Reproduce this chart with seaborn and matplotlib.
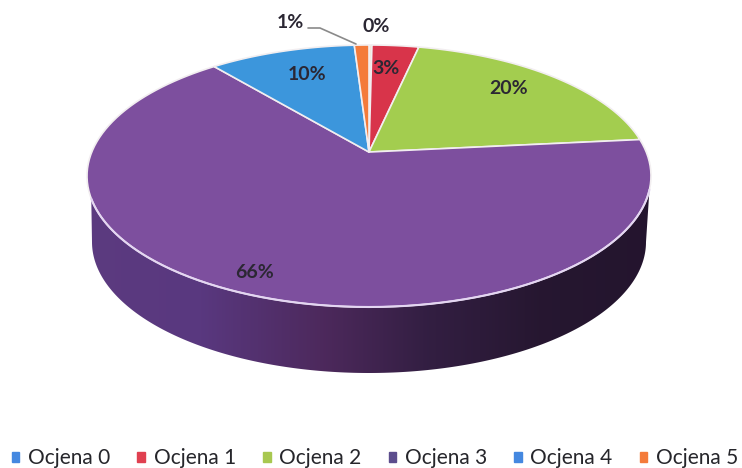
import matplotlib
matplotlib.use('Agg')
import matplotlib.pyplot as plt
from matplotlib.patches import Patch, Polygon
import numpy as np
import seaborn as sns

categories = ['Ocjena 0', 'Ocjena 1', 'Ocjena 2', 'Ocjena 3', 'Ocjena 4', 'Ocjena 5']
values = [0.2, 3.2, 20, 65.6, 10, 1]
pct_labels = ['0%', '3%', '20%', '66%', '10%', '1%']
face_colors = ['#f3e6d8', '#d8344a', '#a3cd4f', '#7d4f9e', '#3c96dc', '#f47b3a']
legend_colors = ['#4488e0', '#e04050', '#a8c850', '#5c4d8d', '#4488e0', '#f47b3a']

sns.set_theme(style='white')
plt.rcParams['font.family'] = ['Lato', 'DejaVu Sans']

fig, ax = plt.subplots(figsize=(7.42, 4.68), dpi=100)
fig.subplots_adjust(0, 0, 1, 1)

# pie works out the slice angles, drawn again below with perspective
wedges, _ = ax.pie(values, startangle=90, counterclock=False)
for w in wedges:
    w.set_visible(False)
ax.set_aspect('auto')

cx, cy, a, b = 369, 176, 282, 131
c = 0.183
depth = 66


def project(deg):
    t = np.radians(deg)
    x, y = np.cos(t), np.sin(t)
    yy = (y + c) / (1 + c * y)
    xx = x * np.sqrt(1 - c ** 2) / (1 + c * y)
    return cx + a * xx, cy - b * yy


# side wall with gradient
phi = np.radians(np.linspace(6, 170, 200))
top_x, top_y = cx + a * np.cos(phi), cy + b * np.sin(phi)
phi2 = np.radians(np.linspace(180, 0, 200))
bot_x, bot_y = cx + 277 * np.cos(phi2), cy + depth + b * np.sin(phi2)
wall = Polygon(np.column_stack([np.r_[top_x, bot_x], np.r_[top_y, bot_y]]),
               closed=True, fc='none', ec='none')
ax.add_patch(wall)
stops_x = [0, 0.2, 0.42, 0.6, 0.8, 1]
stops_rgb = np.array([[0.36, 0.23, 0.50], [0.35, 0.22, 0.50], [0.30, 0.16, 0.36],
                      [0.20, 0.12, 0.26], [0.15, 0.09, 0.19], [0.14, 0.08, 0.18]])
xs = np.linspace(0, 1, 300)
grad = np.stack([np.interp(xs, stops_x, stops_rgb[:, i]) for i in range(3)], axis=-1)[None, :, :]
im = ax.imshow(grad, extent=(85, 655, 380, 170), aspect='auto', zorder=1)
im.set_clip_path(wall)

# top face
apex_y = cy - b * c
for w, col in zip(wedges, face_colors):
    th = np.linspace(w.theta1, w.theta2, 120)
    px, py = project(th)
    poly = Polygon(np.column_stack([np.r_[cx, px], np.r_[apex_y, py]]), closed=True,
                   fc=col, ec='#f2eef0', lw=1.2, joinstyle='round', zorder=2)
    ax.add_patch(poly)

ax.plot(top_x, top_y, color='#e4d6f2', lw=1.5, zorder=3)

# labels
label_pos = [(376, 27), (386, 69), (509, 89), (255, 273), (307, 74), (290, 22)]
for txt, (x, y) in zip(pct_labels, label_pos):
    ax.text(x, y, txt, ha='center', va='center', fontsize=14, fontweight='bold',
            color='#2b2733', zorder=4)
ax.plot([308, 320, 356], [28, 28, 44], color='#8a8a8a', lw=1.2, zorder=4)

ax.set_xlim(0, 742)
ax.set_ylim(468, 0)
ax.axis('off')

handles = [Patch(color=col) for col in legend_colors]
fig.legend(handles, categories, ncols=6, loc='lower left', bbox_to_anchor=(0.016, 0.0),
           frameon=False, fontsize=15, handlelength=0.36, handleheight=0.36,
           handletextpad=0.42, columnspacing=1.30, labelcolor='#26262b',
           borderpad=0, borderaxespad=0)

fig.savefig('out.png', dpi=100)
